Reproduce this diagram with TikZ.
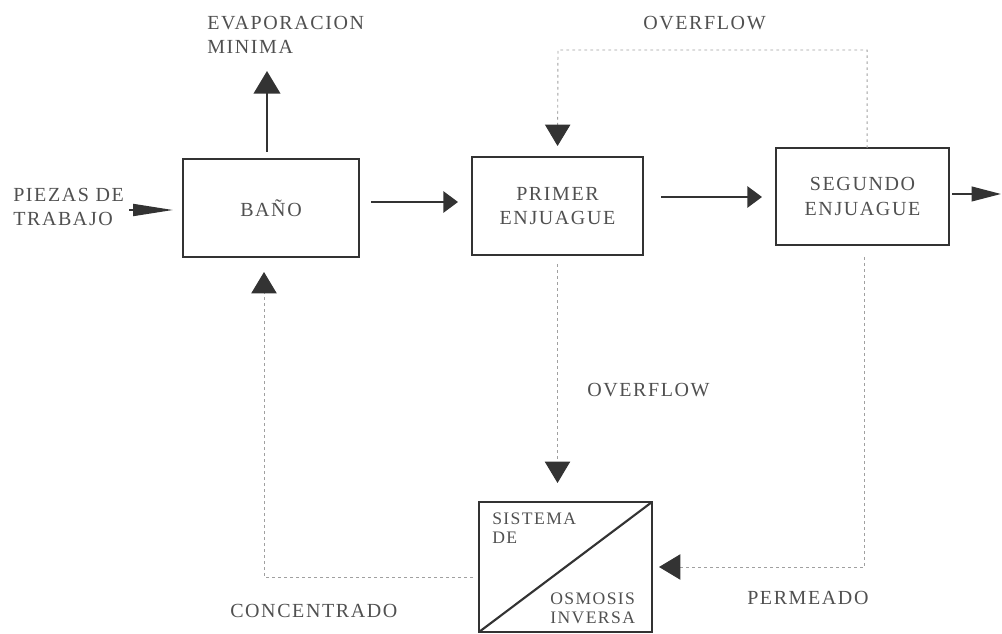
\documentclass[tikz,border=0pt]{standalone}
\usepackage{fontspec}
\setmainfont[LetterSpace=8]{Liberation Serif}
\usetikzlibrary{arrows.meta}
\definecolor{ink}{HTML}{333333}
\definecolor{txt}{HTML}{505050}
\definecolor{dots}{HTML}{A0A0A0}
\newcommand\mainlbl{\fontsize{15}{18.5}\selectfont}
\newcommand\smalllbl{\fontsize{13.2}{14.5}\selectfont}

\begin{document}
\begin{tikzpicture}[x=0.75pt,y=-0.75pt,
  unit/.style={draw=ink, line width=1.6pt, inner sep=0pt, outer sep=0pt,
    text=txt, font=\mainlbl, align=center},
  lbl/.style={inner sep=0pt, text=txt, font=\mainlbl, align=left, anchor=west},
  small/.style={lbl, font=\smalllbl},
  flow/.style={draw=ink, line width=1.4pt, -{Triangle[length=11pt,width=16pt]}},
  recycle/.style={draw=dots, line width=0.7pt, dash pattern=on 2pt off 2.5pt,
    -{Triangle[color=ink,length=16pt,width=19pt]}},
  ]
\useasboundingbox (0,0) rectangle (1002,634);

% process units
\node[unit, minimum width=132pt, minimum height=73.5pt] (bano) at (271,208) {BAÑO};
\node[unit, minimum width=128.25pt, minimum height=73.5pt] (primer) at (557.5,206) {PRIMER\\ENJUAGUE};
\node[unit, minimum width=129.75pt, minimum height=72.75pt] (segundo) at (862.5,196.5) {SEGUNDO\\ENJUAGUE};
\node[unit, minimum width=129.75pt, minimum height=97.5pt] (ro) at (565.5,567) {};
\draw[ink, line width=1.6pt] (ro.south west) -- (ro.north east);

% labels
\node[lbl] (evap) at (207,35) {EVAPORACION\\MINIMA};
\node[lbl] (piezas) at (13,207) {PIEZAS DE\\TRABAJO};
\node[lbl, anchor=center] (ovtop) at (704.5,23) {OVERFLOW};
\node[lbl] (ovmid) at (587,390) {OVERFLOW};
\node[lbl] (conc) at (230,611) {CONCENTRADO};
\node[lbl] (perm) at (747,598) {PERMEADO};
\node[small] (sist) at (492,528) {SISTEMA\\DE};
\node[small] (osmo) at (550,608) {OSMOSIS\\INVERSA};

% main flow
\coordinate (inS) at (129,210);
\draw[flow, -{Triangle[length=30pt,width=9pt]}, shorten >=7.5pt] (inS) -- (inS -| bano.west);

\path ([shift={(9pt,4.5pt)}]bano.east) coordinate (b1);
\draw[flow, shorten >=10.5pt] (b1) -- (b1 -| primer.west);

\path ([shift={(13.5pt,6.75pt)}]primer.east) coordinate (p1);
\draw[flow, shorten >=10.5pt] (p1) -- (p1 -| segundo.west);

\path ([shift={(2.25pt,1.9pt)}]segundo.east) coordinate (s1);
\coordinate (exitE) at (1001,194);
\draw[flow, -{Triangle[length=22pt,width=11pt]}] (s1) -- (exitE);

\coordinate (evapE) at (267,71);
\draw[flow, -{Triangle[length=17pt,width=20pt]}] ([shift={(-3pt,5.25pt)}]bano.north) -- (evapE);

% recycle streams
\coordinate (ovy) at (558,50);
\draw[recycle, shorten >=8.25pt] ([xshift=3.4pt]segundo.north) |- (ovy) -- (primer.north);

\draw[recycle, shorten >=14.25pt] ([yshift=-6.75pt]primer.south) -- (primer.south |- ro.north);

\draw[recycle, shorten >=5.25pt] ([shift={(1.5pt,-9pt)}]segundo.south) |- (ro.east);

\draw[recycle, shorten >=11.25pt] ([shift={(-4.5pt,-7.5pt)}]ro.west) -| ([xshift=-5.25pt]bano.south);
\end{tikzpicture}
\end{document}
